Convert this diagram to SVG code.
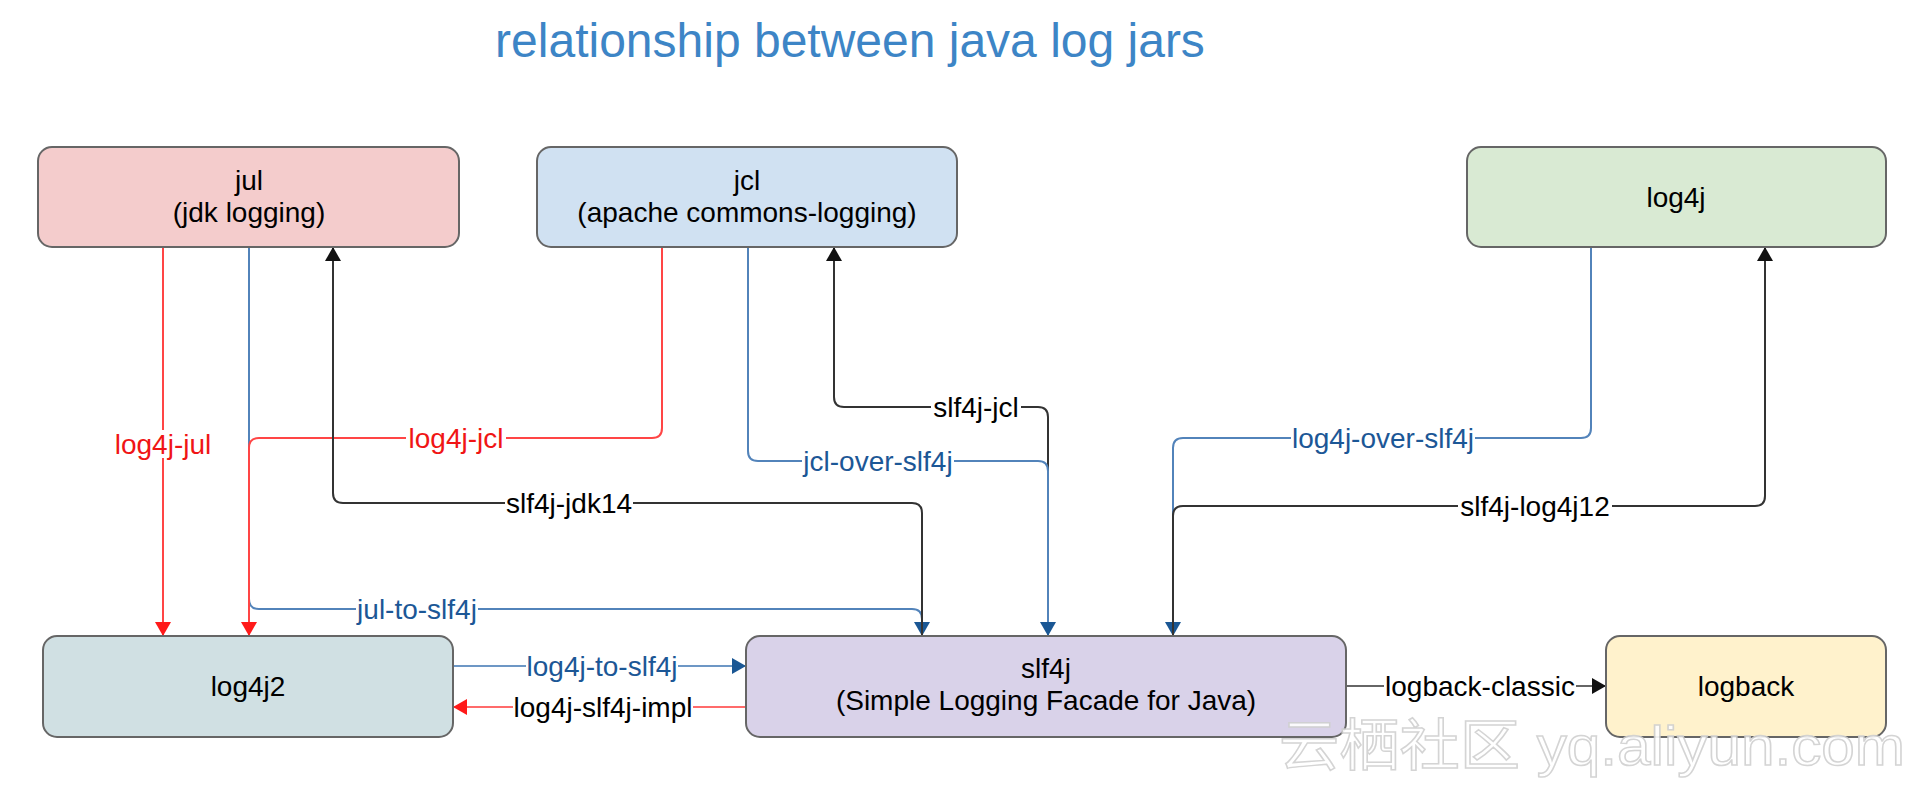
<svg xmlns="http://www.w3.org/2000/svg" width="1922" height="788" viewBox="0 0 1922 788">
<style>
  .node rect { stroke: #666666; stroke-width: 2; }
  .ntxt { font-family: "Liberation Sans", Arial, sans-serif; font-size: 28px; fill: #000; text-anchor: middle; }
  .edge { fill: none; stroke-width: 2; }
  .red { stroke: #ff4545; }
  .blue { stroke: #5283ba; }
  .black { stroke: #333333; }
  .lbl { font-family: "Liberation Sans", Arial, sans-serif; font-size: 28px; text-anchor: middle; }
  .lr { fill: #f01515; }
  .lb { fill: #1c5796; }
  .lk { fill: #000; }
  .bg { fill: #ffffff; }
</style>
<defs>
  <marker id="aRed" markerUnits="userSpaceOnUse" markerWidth="14" markerHeight="16" viewBox="0 0 14 16" refX="14" refY="8" orient="auto">
    <path d="M0,0 L14,8 L0,16 Z" fill="#ff1a1a"/>
  </marker>
  <marker id="aBlue" markerUnits="userSpaceOnUse" markerWidth="14" markerHeight="16" viewBox="0 0 14 16" refX="14" refY="8" orient="auto">
    <path d="M0,0 L14,8 L0,16 Z" fill="#1a5794"/>
  </marker>
  <marker id="aBlack" markerUnits="userSpaceOnUse" markerWidth="14" markerHeight="16" viewBox="0 0 14 16" refX="14" refY="8" orient="auto">
    <path d="M0,0 L14,8 L0,16 Z" fill="#111111"/>
  </marker>
</defs>
<rect x="0" y="0" width="1922" height="788" fill="#ffffff"/>
<text x="850" y="57" font-family="Liberation Sans, Arial, sans-serif" font-size="48" fill="#3d85c6" text-anchor="middle">relationship between java log jars</text>

<g id="connectors">
  <path class="edge red" d="M163 247 V636" marker-end="url(#aRed)"/>
  <path class="edge blue" d="M249 247 V599 Q249 609 259 609 H912 Q922 609 922 619 V636" marker-end="url(#aBlue)"/>
  <path class="edge red" d="M662 247 V428 Q662 438 652 438 H259 Q249 438 249 448 V636" marker-end="url(#aRed)"/>
  <path class="edge black" d="M922 636 V513 Q922 503 912 503 H343 Q333 503 333 493 V247" marker-end="url(#aBlack)"/>
  <path class="edge black" d="M1048 636 V417 Q1048 407 1038 407 H844 Q834 407 834 397 V247" marker-end="url(#aBlack)"/>
  <path class="edge blue" d="M748 247 V451 Q748 461 758 461 H1038 Q1048 461 1048 471 V636" marker-end="url(#aBlue)"/>
  <path class="edge blue" d="M1591 247 V428 Q1591 438 1581 438 H1183 Q1173 438 1173 448 V636" marker-end="url(#aBlue)"/>
  <path class="edge black" d="M1173 636 V516 Q1173 506 1183 506 H1755 Q1765 506 1765 496 V247" marker-end="url(#aBlack)"/>
  <path class="edge" stroke="#6d97c5" stroke-width="3" d="M453 666 H746" marker-end="url(#aBlue)"/>
  <path class="edge" stroke="#ff6b6b" stroke-width="3" d="M746 707 H453" marker-end="url(#aRed)"/>
  <path class="edge" stroke="#666666" stroke-width="3" d="M1346 686 H1606" marker-end="url(#aBlack)"/>

  <rect class="bg" x="113" y="430" width="100" height="28"/>
  <text class="lbl lr" x="163" y="454">log4j-jul</text>
  <rect class="bg" x="406" y="424" width="100" height="28"/>
  <text class="lbl lr" x="456" y="448">log4j-jcl</text>
  <rect class="bg" x="505" y="489" width="128" height="28"/>
  <text class="lbl lk" x="569" y="513">slf4j-jdk14</text>
  <rect class="bg" x="356" y="595" width="122" height="28"/>
  <text class="lbl lb" x="417" y="619">jul-to-slf4j</text>
  <rect class="bg" x="931" y="393" width="90" height="28"/>
  <text class="lbl lk" x="976" y="417">slf4j-jcl</text>
  <rect class="bg" x="802" y="447" width="152" height="28"/>
  <text class="lbl lb" x="878" y="471">jcl-over-slf4j</text>
  <rect class="bg" x="1291" y="424" width="184" height="28"/>
  <text class="lbl lb" x="1383" y="448">log4j-over-slf4j</text>
  <rect class="bg" x="1458" y="492" width="154" height="28"/>
  <text class="lbl lk" x="1535" y="516">slf4j-log4j12</text>
  <rect class="bg" x="526" y="652" width="152" height="28"/>
  <text class="lbl lb" x="602" y="676">log4j-to-slf4j</text>
  <rect class="bg" x="513" y="693" width="180" height="28"/>
  <text class="lbl lk" x="603" y="717">log4j-slf4j-impl</text>
  <rect class="bg" x="1384" y="672" width="192" height="28"/>
  <text class="lbl lk" x="1480" y="696">logback-classic</text>
</g>

<g id="node-jul" class="node">
  <rect x="38" y="147" width="421" height="100" rx="14" fill="#f4cccc"/>
  <text class="ntxt" x="249" y="190">jul</text>
  <text class="ntxt" x="249" y="222">(jdk logging)</text>
</g>
<g id="node-jcl" class="node">
  <rect x="537" y="147" width="420" height="100" rx="14" fill="#d0e1f2"/>
  <text class="ntxt" x="747" y="190">jcl</text>
  <text class="ntxt" x="747" y="222">(apache commons-logging)</text>
</g>
<g id="node-log4j" class="node">
  <rect x="1467" y="147" width="419" height="100" rx="14" fill="#d9ead3"/>
  <text class="ntxt" x="1676" y="207">log4j</text>
</g>
<g id="node-log4j2" class="node">
  <rect x="43" y="636" width="410" height="101" rx="14" fill="#d0e0e3"/>
  <text class="ntxt" x="248" y="696">log4j2</text>
</g>
<g id="node-slf4j" class="node">
  <rect x="746" y="636" width="600" height="101" rx="14" fill="#d9d2e9"/>
  <text class="ntxt" x="1046" y="678">slf4j</text>
  <text class="ntxt" x="1046" y="710">(Simple Logging Facade for Java)</text>
</g>
<g id="node-logback" class="node">
  <rect x="1606" y="636" width="280" height="101" rx="14" fill="#fff2cc"/>
  <text class="ntxt" x="1746" y="696">logback</text>
</g>

<text x="1279" y="765" textLength="626" lengthAdjust="spacingAndGlyphs" font-family="Liberation Sans, 'Noto Sans CJK SC', sans-serif" font-size="56" fill="#ffffff" stroke="#d0d0d0" stroke-width="1.5" opacity="0.9">云栖社区 yq.aliyun.com</text>
</svg>
